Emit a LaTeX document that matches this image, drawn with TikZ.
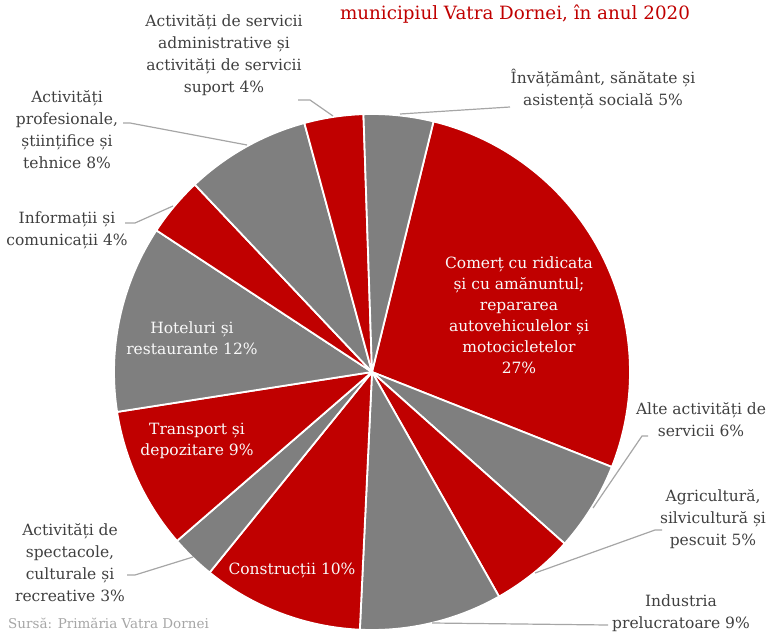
\documentclass[tikz,border=0pt]{standalone}
\usepackage{fontspec}
\setmainfont{DejaVu Serif}
\definecolor{pieRed}{HTML}{C00000}
\definecolor{pieGray}{HTML}{7F7F7F}
\definecolor{lblText}{HTML}{404040}
\definecolor{leaderGray}{HTML}{A6A6A6}
\definecolor{srcGray}{HTML}{A6A6A6}

\begin{document}
\begin{tikzpicture}[x=1pt, y=1pt,
    redslice/.style={fill=pieRed, draw=white, line width=1.8pt, line join=round},
    grayslice/.style={fill=pieGray, draw=white, line width=1.8pt, line join=round},
    inlabel/.style={text=white!95!gray, align=center, inner sep=0pt, font=\fontsize{15.5}{21}\selectfont},
    outlabel/.style={text=lblText, align=center, inner sep=0pt, font=\fontsize{15.5}{22}\selectfont},
    leader/.style={draw=leaderGray, line width=1.2pt}]
    \useasboundingbox (0,0) rectangle (770,633);

    % Title (its first line is cut off)
    \node[text=pieRed, font=\fontsize{18.3}{20}\selectfont] (title) at (515,619) {municipiul Vatra Dornei, în anul 2020};

    % Slices, clockwise from the top
    \begin{scope}[shift={(372,261)}]
        \filldraw[redslice]  (0,0) -- (76.2:258)   arc[start angle=76.2,   end angle=-21.6,  radius=258] -- cycle; % comert
        \filldraw[grayslice] (0,0) -- (-21.6:258)  arc[start angle=-21.6,  end angle=-41.7,  radius=258] -- cycle; % alte
        \filldraw[redslice]  (0,0) -- (-41.7:258)  arc[start angle=-41.7,  end angle=-60.5,  radius=258] -- cycle; % agricultura
        \filldraw[grayslice] (0,0) -- (-60.5:258)  arc[start angle=-60.5,  end angle=-92.7,  radius=258] -- cycle; % industria
        \filldraw[redslice]  (0,0) -- (-92.7:258)  arc[start angle=-92.7,  end angle=-129.0, radius=258] -- cycle; % constructii
        \filldraw[grayslice] (0,0) -- (-129.0:258) arc[start angle=-129.0, end angle=-139.1, radius=258] -- cycle; % spectacole
        \filldraw[redslice]  (0,0) -- (-139.1:258) arc[start angle=-139.1, end angle=-171.1, radius=258] -- cycle; % transport
        \filldraw[grayslice] (0,0) -- (-171.1:258) arc[start angle=-171.1, end angle=-213.3, radius=258] -- cycle; % hoteluri
        \filldraw[redslice]  (0,0) -- (-213.3:258) arc[start angle=-213.3, end angle=-226.6, radius=258] -- cycle; % informatii
        \filldraw[grayslice] (0,0) -- (-226.6:258) arc[start angle=-226.6, end angle=-254.8, radius=258] -- cycle; % profesionale
        \filldraw[redslice]  (0,0) -- (-254.8:258) arc[start angle=-254.8, end angle=-268.1, radius=258] -- cycle; % administrative
        \filldraw[grayslice] (0,0) -- (-268.1:258) arc[start angle=-268.1, end angle=-283.8, radius=258] -- cycle; % invatamant
    \end{scope}

    % Labels inside the slices
    \node[inlabel] (comert) at (519,318) {Comerț cu ridicata\\și cu amănuntul;\\repararea\\autovehiculelor și\\motocicletelor\\27\%};
    \node[inlabel] (hoteluri) at (192,295) {Hoteluri și\\restaurante 12\%};
    \node[inlabel] (transport) at (197,192) {Transport și\\depozitare 9\%};
    \node[inlabel] (constructii) at (292,63) {Construcții 10\%};

    % Labels outside the pie
    \node[outlabel] (admin) at (224,578) {Activități de servicii\\administrative și\\activități de servicii\\suport 4\%};
    \node[outlabel] (invatamant) at (603,544) {Învățământ, sănătate și\\asistență socială 5\%};
    \node[outlabel] (profesionale) at (67,503) {Activități\\profesionale,\\științifice și\\tehnice 8\%};
    \node[outlabel] (informatii) at (67,403) {Informații și\\comunicații 4\%};
    \node[outlabel] (spectacole) at (70,70) {Activități de\\spectacole,\\culturale și\\recreative 3\%};
    \node[outlabel] (alte) at (701,213) {Alte activități de\\servicii 6\%};
    \node[outlabel] (agricultura) at (713,114) {Agricultură,\\silvicultură și\\pescuit 5\%};
    \node[outlabel] (industria) at (681,20) {Industria\\prelucratoare 9\%};

    % Source
    \node[anchor=west, text=srcGray, inner sep=0pt, font=\fontsize{13.5}{15}\selectfont] (sursa) at (8,10) {Sursă: Primăria Vatra Dornei};

    % Leader lines
    \coordinate (adminA) at (298,533);   \coordinate (adminB) at (333,517);
    \coordinate (invA) at (510,526);     \coordinate (invB) at (400,519);
    \coordinate (profA) at (123,510);    \coordinate (profB) at (247,488);
    \coordinate (infoA) at (125,410);    \coordinate (infoB) at (173,427);
    \coordinate (spectA) at (127,58);    \coordinate (spectB) at (193,76);
    \coordinate (alteA) at (648,197);    \coordinate (alteB) at (593,125);
    \coordinate (agricA) at (662,103);   \coordinate (agricB) at (535,60);
    \coordinate (indusA) at (608,8);     \coordinate (indusB) at (432,10);

    \draw[leader] (adminA) -- ++(12,0) -- (adminB);
    \draw[leader] (invA) -- (invB);
    \draw[leader] (profA) -- ++(7,0) -- (profB);
    \draw[leader] (infoA) -- ++(10,0) -- (infoB);
    \draw[leader] (spectA) -- ++(8,0) -- (spectB);
    \draw[leader] (alteA) -- ++(-6,0) -- (alteB);
    \draw[leader] (agricA) -- ++(-7,0) -- (agricB);
    \draw[leader] (indusA) -- (indusB);
\end{tikzpicture}
\end{document}
